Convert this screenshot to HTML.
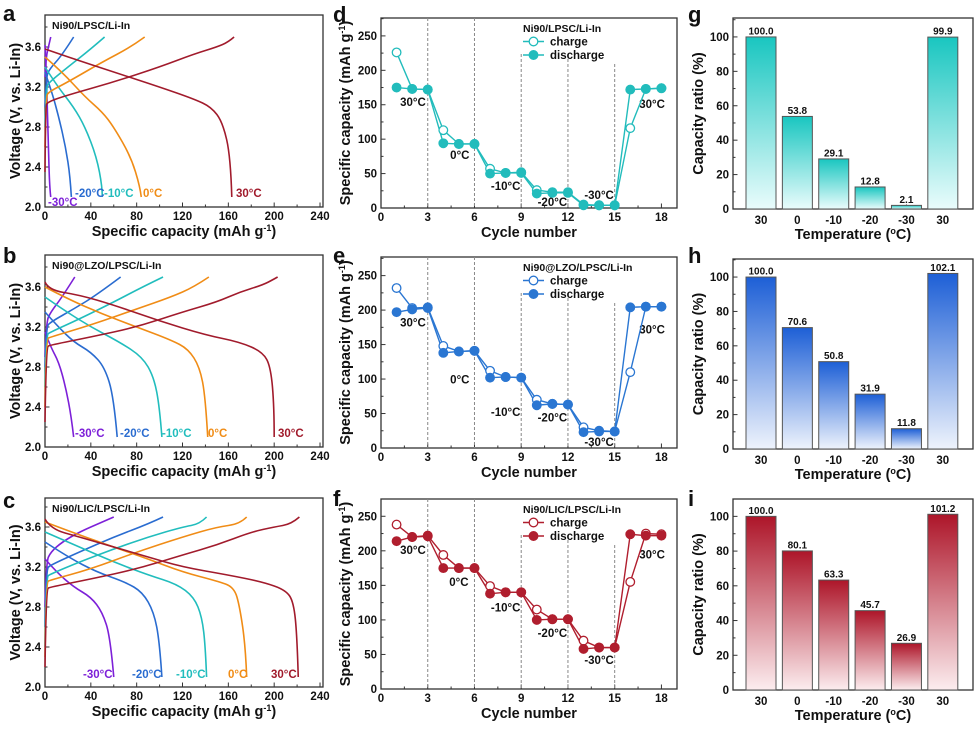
<!DOCTYPE html>
<html><head><meta charset="utf-8"><style>
html,body{margin:0;padding:0;background:#fff}
svg text{font-family:"Liberation Sans",Arial,sans-serif;font-weight:bold;fill:#111}
</style></head><body>
<svg id="fig" width="975" height="724" viewBox="0 0 975 724" xmlns="http://www.w3.org/2000/svg">
<defs>
<linearGradient id="gT" x1="0" y1="0" x2="0" y2="1"><stop offset="0" stop-color="#19c6c0"/><stop offset="1" stop-color="#eafcfc"/></linearGradient>
<linearGradient id="gB" x1="0" y1="0" x2="0" y2="1"><stop offset="0" stop-color="#1d5fd6"/><stop offset="1" stop-color="#eef3fc"/></linearGradient>
<linearGradient id="gR" x1="0" y1="0" x2="0" y2="1"><stop offset="0" stop-color="#ad1529"/><stop offset="1" stop-color="#fcedef"/></linearGradient>
</defs>
</svg>
<script>
// ---------- data: voltage profiles [capacity, voltage] ----------
const tempNames = ["30°C","0°C","-10°C","-20°C","-30°C"];
const aCharge = [
 [[0,2.35],[0.5,3.0],[2,3.05],[20,3.12],[60,3.25],[100,3.4],[130,3.53],[150,3.6],[160,3.65],[165,3.7]],
 [[0,2.6],[1,3.1],[3,3.15],[20,3.25],[50,3.45],[75,3.6],[87,3.7]],
 [[0,2.8],[1,3.2],[4,3.25],[20,3.4],[40,3.58],[52,3.7]],
 [[0,3.0],[1,3.3],[4,3.38],[15,3.52],[25,3.7]],
 [[0,3.3],[1,3.5],[3,3.6],[5,3.7]]];
const aDischarge = [
 [[0,3.58],[20,3.5],[60,3.35],[100,3.2],[130,3.08],[145,3.0],[155,2.85],[162,2.5],[163,2.1]],
 [[0,3.5],[15,3.35],[35,3.1],[50,2.95],[60,2.8],[75,2.5],[83,2.2],[84,2.1]],
 [[0,3.4],[10,3.22],[25,3.0],[35,2.8],[45,2.5],[50,2.2],[50,2.1]],
 [[0,3.35],[6,3.15],[12,2.9],[18,2.6],[22,2.3],[23,2.1]],
 [[0,3.62],[1,3.4],[2,3.0],[3,2.6],[4,2.2],[5,2.1]]];
const bCharge = [
 [[0,2.25],[1,3.0],[5,3.02],[40,3.1],[80,3.2],[120,3.35],[150,3.45],[170,3.55],[190,3.62],[200,3.68],[203,3.7]],
 [[0,2.4],[1,3.08],[5,3.1],[40,3.22],[80,3.38],[110,3.5],[130,3.6],[143,3.7]],
 [[0,2.6],[1,3.12],[5,3.15],[30,3.28],[60,3.45],[85,3.6],[103,3.7]],
 [[0,2.8],[1,3.2],[5,3.25],[25,3.38],[45,3.52],[66,3.7]],
 [[0,2.9],[1,3.25],[5,3.35],[15,3.5],[26,3.7]]];
const bDischarge = [
 [[0,3.65],[3,3.57],[30,3.52],[60,3.42],[100,3.26],[140,3.12],[170,3.05],[190,2.95],[197,2.8],[200,2.4],[200,2.1]],
 [[0,3.6],[20,3.48],[50,3.33],[80,3.2],[110,3.07],[125,2.98],[135,2.8],[140,2.5],[142,2.1]],
 [[0,3.5],[15,3.38],[40,3.2],[65,3.05],[85,2.9],[95,2.7],[100,2.4],[102,2.1]],
 [[0,3.35],[10,3.22],[25,3.05],[40,2.95],[52,2.8],[60,2.5],[63,2.1]],
 [[0,3.15],[5,3.0],[12,2.85],[18,2.6],[23,2.3],[25,2.1]]];
const cCharge = [
 [[0,2.2],[1,2.98],[5,3.0],[40,3.08],[80,3.18],[120,3.32],[150,3.42],[180,3.55],[200,3.6],[215,3.63],[222,3.7]],
 [[0,2.3],[1,3.05],[5,3.07],[40,3.18],[80,3.35],[120,3.5],[150,3.6],[170,3.63],[176,3.7]],
 [[0,2.4],[1,3.1],[5,3.13],[30,3.25],[60,3.38],[90,3.5],[120,3.6],[135,3.63],[141,3.7]],
 [[0,2.6],[1,3.18],[5,3.22],[30,3.35],[60,3.5],[90,3.63],[103,3.7]],
 [[0,2.8],[1,3.25],[5,3.35],[15,3.45],[30,3.55],[50,3.65],[60,3.7]]];
const cDischarge = [
 [[0,3.68],[5,3.58],[30,3.5],[60,3.4],[90,3.3],[120,3.2],[160,3.12],[190,3.05],[210,2.97],[217,2.85],[220,2.5],[221,2.1]],
 [[0,3.65],[30,3.52],[60,3.4],[90,3.28],[120,3.15],[150,3.06],[165,3.0],[170,2.8],[175,2.4],[176,2.1]],
 [[0,3.55],[30,3.4],[60,3.25],[90,3.12],[115,3.03],[130,2.9],[137,2.7],[140,2.4],[141,2.1]],
 [[0,3.45],[20,3.3],[45,3.15],[70,3.05],[85,2.95],[95,2.75],[100,2.45],[102,2.1]],
 [[0,3.28],[10,3.15],[25,3.0],[40,2.9],[50,2.75],[57,2.5],[60,2.1]]];
// ---------- data: rate cycling ----------
const cycles = [1,2,3,4,5,6,7,8,9,10,11,12,13,14,15,16,17,18];
const dCharge = [226,173,172,113,93,93,57,51,52,26,23,23,5,4,4,116,173,174];
const dDischarge = [175,173,172,94,93,93,50,51,51,21,22,22,4,4,4,172,173,174];
const eCharge = [232,203,204,148,140,141,112,103,102,70,64,63,30,25,24,110,205,205];
const eDischarge = [197,201,203,138,140,141,102,103,102,62,64,63,23,24,24,204,205,205];
const fCharge = [238,220,222,194,175,175,149,140,140,115,101,101,70,60,60,155,225,224];
const fDischarge = [214,220,221,175,175,175,138,140,140,100,101,101,58,60,60,224,222,222];
// ---------- data: capacity ratio ----------
const tempCats = ["30","0","-10","-20","-30","30"];
const gRatio = [100.0,53.8,29.1,12.8,2.1,99.9];
const hRatio = [100.0,70.6,50.8,31.9,11.8,102.1];
const iRatio = [100.0,80.1,63.3,45.7,26.9,101.2];

const NS="http://www.w3.org/2000/svg";
const svg=document.getElementById('fig');
function el(tag,attrs,parent,text){const e=document.createElementNS(NS,tag);for(const k in attrs)e.setAttribute(k,attrs[k]);if(text!==undefined)e.textContent=text;(parent||svg).appendChild(e);return e;}
function txt(x,y,s,size,anchor,parent,name){const t=el('text',{x:x,y:y,'font-size':size,'text-anchor':anchor||'start'},parent,s);


return t;}
function smooth(pts){let d='M'+pts[0][0]+','+pts[0][1];
 if(pts.length<3){for(let i=1;i<pts.length;i++)d+=' L'+pts[i][0]+','+pts[i][1];return d;}
 for(let i=1;i<pts.length-1;i++){const mx=(pts[i][0]+pts[i+1][0])/2,my=(pts[i][1]+pts[i+1][1])/2;d+=' Q'+pts[i][0]+','+pts[i][1]+' '+(i==pts.length-2?pts[i+1][0]:mx)+','+(i==pts.length-2?pts[i+1][1]:my);}
 return d;}

function axes(g,P,xt,xminor,yt,yminor,xfmt,yfmt){
 const sx=v=>P.L+(v-P.x0)/(P.x1-P.x0)*(P.R-P.L), sy=v=>P.B-(v-P.y0)/(P.y1-P.y0)*(P.B-P.T);
 const box=el('rect',{x:P.L,y:P.T,width:P.R-P.L,height:P.B-P.T,fill:'none',stroke:'#333','stroke-width':1.3},g);
 
 
 xminor.forEach(v=>el('line',{x1:sx(v),x2:sx(v),y1:P.B,y2:P.B-2.5,stroke:'#333'},g));
 yminor.forEach(v=>el('line',{x1:P.L,x2:P.L+2.5,y1:sy(v),y2:sy(v),stroke:'#333'},g));
 xt.forEach(v=>{if(v!==null){el('line',{x1:sx(v),x2:sx(v),y1:P.B,y2:P.B-4.5,stroke:'#333'},g);txt(sx(v),P.B+13,xfmt(v),11.5,'middle',g,'x-tick-label');}});
 yt.forEach(v=>{el('line',{x1:P.L,x2:P.L+4.5,y1:sy(v),y2:sy(v),stroke:'#333'},g);txt(P.L-4,sy(v)+4,yfmt(v),11.5,'end',g,'y-tick-label');});
 return [sx,sy];
}
function range(a,b,s){const r=[];for(let v=a;v<=b+1e-9;v+=s)r.push(+v.toFixed(3));return r;}
function panelLetter(x,y,s){const t=txt(x,y,s,22,'start',svg,'panel-label-'+s);}
function ytitle(x,y,s,g){const t=el('text',{x:0,y:0,'font-size':14.5,'text-anchor':'middle',transform:'translate('+x+','+y+') rotate(-90)'},g);t.innerHTML=s;
 
 }
function xtitle(x,y,s,g){const t=el('text',{x:x,y:y,'font-size':14.5,'text-anchor':'middle'},g);t.innerHTML=s;
 
 }

// ---------- voltage panels ----------
const vColors=["#a11b2c","#f08c16","#21bdbd","#2a6cd0","#7d20d8"];
function voltPanel(letter,P,title,ch,dis,labels){
 const g=el('g',{});
 
 
 const [sx,sy]=axes(g,P,range(0,240,40),range(20,240,40),range(2.0,3.6,0.4),range(2.2,3.8,0.4),v=>String(v),v=>v.toFixed(1));
 for(let k=4;k>=0;k--){
  [ch[k],dis[k]].forEach((arr,j)=>{const p=el('path',{d:smooth(arr.map(q=>[sx(q[0]),sy(q[1])])),fill:'none',stroke:vColors[k],'stroke-width':1.6,'stroke-linejoin':'round'},g);
   
   });
 }
 labels.forEach((l,k)=>{const t=txt(l[0],l[1],tempNames[k],11.5,'start',g,'temp-label');t.setAttribute('style','fill:'+vColors[k]);});
 txt(P.L+7,P.T+14,title,10.5,'start',g,'cell-title');
 ytitle(P.L-25,(P.T+P.B)/2,'Voltage (V, vs. Li-In)',g);
 xtitle((P.L+P.R)/2,P.B+29,'Specific capacity (mAh g<tspan dy="-5" font-size="9">-1</tspan><tspan dy="5">)</tspan>',g);
}
voltPanel('a',{L:45,R:323,T:15,B:207,x0:0,x1:242.6,y0:2.0,y1:3.92},'Ni90/LPSC/Li-In',aCharge,aDischarge,[[236,197],[143,197],[104,197],[75,197],[48,206]]);
voltPanel('b',{L:45,R:323,T:255,B:447,x0:0,x1:242.6,y0:2.0,y1:3.92},'Ni90@LZO/LPSC/Li-In',bCharge,bDischarge,[[278,437],[208,437],[162,437],[120,437],[75,437]]);
voltPanel('c',{L:45,R:323,T:498,B:687,x0:0,x1:242.6,y0:2.0,y1:3.89},'Ni90/LIC/LPSC/Li-In',cCharge,cDischarge,[[271,678],[228,678],[176,678],[132,678],[83,678]]);

// ---------- cycling panels ----------
function cyclePanel(letter,P,title,col,ch,dis,tl){
 const g=el('g',{});
 
 
 const [sx,sy]=axes(g,P,range(0,18,3),range(1.5,18,3),range(0,250,50),range(25,275,50),v=>String(v),v=>String(v));
 [3,6,9,12,15].forEach(c=>{const top=c<9?P.T:(c<15?P.T+36:P.T+46);
  const l=el('line',{x1:sx(c),x2:sx(c),y1:top,y2:P.B,stroke:'#888','stroke-dasharray':'3,2','stroke-width':1},g);
  
  });
 const names=["30°C","0°C","-10°C","-20°C","-30°C","30°C"];
 tl.forEach((p,i)=>txt(sx(p[0]),sy(p[1])+4,names[i],11.5,'middle',g,'temp-label'));
 [[dis,true],[ch,false]].forEach(([arr,filled])=>{
  const pts=cycles.map((c,i)=>sx(c)+','+sy(arr[i])).join(' ');
  const pl=el('polyline',{points:pts,fill:'none',stroke:col,'stroke-width':1.4},g);
  
  
 });
 [[ch,false],[dis,true]].forEach(([arr,filled])=>{
  cycles.forEach((c,i)=>{const m=el('circle',{cx:sx(c),cy:sy(arr[i]),r:4.3,fill:filled?col:'#fff',stroke:col,'stroke-width':1.3},g);
   
   });
 });
 const lx=P.L+142, ly=P.T+10;
 txt(lx,ly+4,title,10.5,'start',g,'legend-title');
 [['charge',false],['discharge',true]].forEach(([n,f],i)=>{const y=ly+13.5*(i+1);
  el('line',{x1:lx,x2:lx+21,y1:y,y2:y,stroke:col,'stroke-width':1.4},g);
  const c=el('circle',{cx:lx+10.5,cy:y,r:4.3,fill:f?col:'#fff',stroke:col,'stroke-width':1.3},g);
  
  
  txt(lx+27,y+4,n,11.5,'start',g,'legend-entry-'+n);});
 ytitle(P.L-31,(P.T+P.B)/2,'Specific capacity (mAh g<tspan dy="-5" font-size="9">-1</tspan><tspan dy="5">)</tspan>',g);
 xtitle((P.L+P.R)/2,P.B+29,'Cycle number',g);
}
cyclePanel('d',{L:381,R:677,T:18,B:208,x0:0,x1:19,y0:0,y1:276},'Ni90/LPSC/Li-In','#22bcbc',dCharge,dDischarge,[[2.05,154],[5.06,77],[8,32],[11,9],[14,19],[17.4,151]]);
cyclePanel('e',{L:381,R:677,T:257,B:448,x0:0,x1:19,y0:0,y1:277},'Ni90@LZO/LPSC/Li-In','#2a76d2',eCharge,eDischarge,[[2.05,182],[5.06,99],[8,52],[11,44],[14,9],[17.4,172]]);
cyclePanel('f',{L:381,R:677,T:499,B:689,x0:0,x1:19,y0:0,y1:275},'Ni90/LIC/LPSC/Li-In','#b01e2e',fCharge,fDischarge,[[2.05,201],[5,155],[8,118],[11,81],[14,42],[17.4,195]]);

// ---------- bar panels ----------
function barPanel(letter,P,vals,grad){
 const g=el('g',{});
 
 
 const [sx,sy]=axes(g,P,[],[],range(0,100,20),range(10,110,20),v=>String(v),v=>String(v));
 const step=(P.R-P.L)/6.6;
 tempCats.forEach((c,i)=>{const cx=P.L+(i+0.77)*step;
  el('line',{x1:cx,x2:cx,y1:P.B,y2:P.B-4.5,stroke:'#333'},g);
  txt(cx,P.B+15,c,11.5,'middle',g,'x-tick-label');
  const r=el('rect',{x:cx-15,y:sy(vals[i]),width:30,height:P.B-sy(vals[i]),fill:'url(#'+grad+')',stroke:'#555','stroke-width':1},g);
  
  
  txt(cx,sy(vals[i])-2.5,vals[i].toFixed(1),10,'middle',g,'bar-value');
 });
 ytitle(P.L-30,(P.T+P.B)/2,'Capacity ratio (%)',g);
 xtitle((P.L+P.R)/2,P.B+30,'Temperature (<tspan dy="-5" font-size="9">o</tspan><tspan dy="5">C)</tspan>',g);
}
barPanel('g',{L:733,R:973,T:18,B:209,x0:0,x1:1,y0:0,y1:111},gRatio,'gT');
barPanel('h',{L:733,R:973,T:259,B:449,x0:0,x1:1,y0:0,y1:110.5},hRatio,'gB');
barPanel('i',{L:733,R:973,T:499,B:690,x0:0,x1:1,y0:0,y1:110},iRatio,'gR');

panelLetter(3,21,'a');panelLetter(3,263,'b');panelLetter(3,508,'c');
panelLetter(333,22,'d');panelLetter(333,263,'e');panelLetter(333,506,'f');
panelLetter(688,22,'g');panelLetter(688,263,'h');panelLetter(688,506,'i');
</script>
</body></html>
